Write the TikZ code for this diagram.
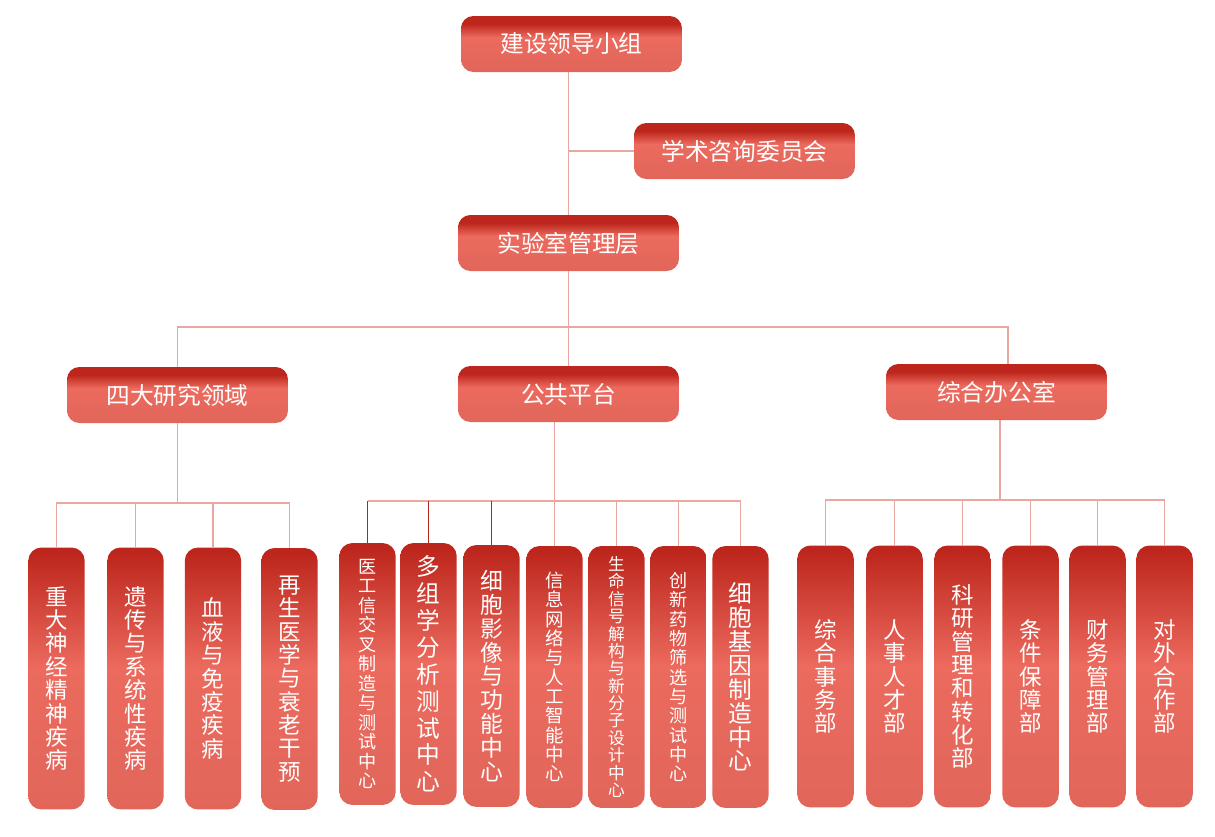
\documentclass[tikz,border=0pt]{standalone}
\usepackage{fontspec}
\usepackage{tikz}
\newfontfamily\cjk{Noto Sans CJK SC}

\definecolor{boxtop}{HTML}{BD261C}
\definecolor{boxmid}{HTML}{EC6A5E}
\definecolor{boxlow}{HTML}{E1665A}
\definecolor{linkpink}{HTML}{E9A7A2}
\definecolor{linkdark}{HTML}{B3241B}

\pgfdeclareverticalshading{headshade}{100bp}{color(0bp)=(boxlow); color(25bp)=(boxlow); color(56bp)=(boxmid); color(68bp)=(boxtop); color(100bp)=(boxtop)}
\pgfdeclareverticalshading{tallshade}{100bp}{color(0bp)=(boxlow); color(25bp)=(boxlow); color(52bp)=(boxmid); color(74bp)=(boxtop); color(100bp)=(boxtop)}

\begin{document}
\begin{tikzpicture}[
	x=0.02cm, y=-0.02cm,
	box/.style={text=white, inner sep=2pt},
	head/.style={box, rounded corners=7pt, shading=headshade, minimum width=4.42cm, minimum height=1.12cm, font=\cjk\fontsize{13.5}{14}\selectfont},
	tall/.style={box, rounded corners=7.5pt, shading=tallshade, minimum width=1.13cm, minimum height=5.24cm, align=center, font=\cjk\fontsize{12.8}{13.3}\selectfont},
	link/.style={linkpink, line width=0.7pt},
	darklink/.style={linkdark, line width=0.7pt}
]
\useasboundingbox (0,0) rectangle (1215,836);

% top levels
\node[head] (lead) at (571.5,44) {建设领导小组};
\node[head] (acad) at (744.5,151) {学术咨询委员会};
\node[head] (lab) at (568.5,243) {实验室管理层};

% groups
\node[head] (area) at (177.5,395) {四大研究领域};
\node[head] (pub) at (568.5,394) {公共平台};
\node[head] (office) at (996.5,392) {综合办公室};

% research areas
\node[tall] (a1) at (56.5,678.5) {重\\大\\神\\经\\精\\神\\疾\\病};
\node[tall] (a2) at (135.5,678.5) {遗\\传\\与\\系\\统\\性\\疾\\病};
\node[tall] (a3) at (213,678.5) {血\\液\\与\\免\\疫\\疾\\病};
\node[tall] (a4) at (289.5,679) {再\\生\\医\\学\\与\\衰\\老\\干\\预};

% platforms
\node[tall, font=\cjk\fontsize{10.3}{11.1}\selectfont] (p1) at (367.5,674) {医\\工\\信\\交\\叉\\制\\造\\与\\测\\试\\中\\心};
\node[tall, font=\cjk\fontsize{13.5}{15.3}\selectfont] (p2) at (428.5,674) {多\\组\\学\\分\\析\\测\\试\\中\\心};
\node[tall, font=\cjk\fontsize{13}{13.6}\selectfont] (p3) at (491.5,676) {细\\胞\\影\\像\\与\\功\\能\\中\\心};
\node[tall, font=\cjk\fontsize{10.5}{11}\selectfont] (p4) at (554.5,677) {信\\息\\网\\络\\与\\人\\工\\智\\能\\中\\心};
\node[tall, font=\cjk\fontsize{9.5}{9.9}\selectfont] (p5) at (616.5,677) {生\\命\\信\\号\\解\\构\\与\\新\\分\\子\\设\\计\\中\\心};
\node[tall, font=\cjk\fontsize{10.3}{11}\selectfont] (p6) at (678.5,677) {创\\新\\药\\物\\筛\\选\\与\\测\\试\\中\\心};
\node[tall, font=\cjk\fontsize{13.5}{13.6}\selectfont] (p7) at (740.5,677) {细\\胞\\基\\因\\制\\造\\中\\心};

% office
\node[tall] (o1) at (825.5,676.5) {综\\合\\事\\务\\部};
\node[tall] (o2) at (894.5,676.5) {人\\事\\人\\才\\部};
\node[tall] (o3) at (962.5,676.5) {科\\研\\管\\理\\和\\转\\化\\部};
\node[tall] (o4) at (1030.5,676.5) {条\\件\\保\\障\\部};
\node[tall] (o5) at (1097.5,676.5) {财\\务\\管\\理\\部};
\node[tall] (o6) at (1164.5,676.5) {对\\外\\合\\作\\部};

\coordinate (busTop) at (0,327);
\coordinate (busA) at (0,503);
\coordinate (busP) at (0,501);
\coordinate (busO) at (0,500);

% links
\draw[link] (lead.south -| lab.north) -- (lab.north);
\draw[link] (lab.north |- acad.west) -- (acad.west);
\draw[link] (lab.south) -- (pub.north);
\draw[link] (area.north) -- (area.north |- busTop) -- ([xshift=0.23cm]office.north |- busTop) -- ([xshift=0.23cm]office.north);

\draw[link] (area.south) -- (area.south |- busA);
\draw[link] (a1.north) -- (a1.north |- busA) -- (a4.north |- busA) -- (a4.north);
\foreach \n in {a2,a3}
	\draw[link] (\n.north) -- (\n.north |- busA);

\draw[link] (pub.south -| p4.north) -- (p4.north);
\draw[link] (p1.north |- busP) -- (p7.north |- busP);
\foreach \n in {p1,p2,p3}
	\draw[darklink] (\n.north) -- (\n.north |- busP);
\foreach \n in {p5,p6,p7}
	\draw[link] (\n.north) -- (\n.north |- busP);

\draw[link] ([xshift=0.07cm]office.south) -- ([xshift=0.07cm]office.south |- busO);
\draw[link] (o1.north) -- (o1.north |- busO) -- (o6.north |- busO) -- (o6.north);
\foreach \n in {o2,o3,o4,o5}
	\draw[link] (\n.north) -- (\n.north |- busO);
\end{tikzpicture}
\end{document}
